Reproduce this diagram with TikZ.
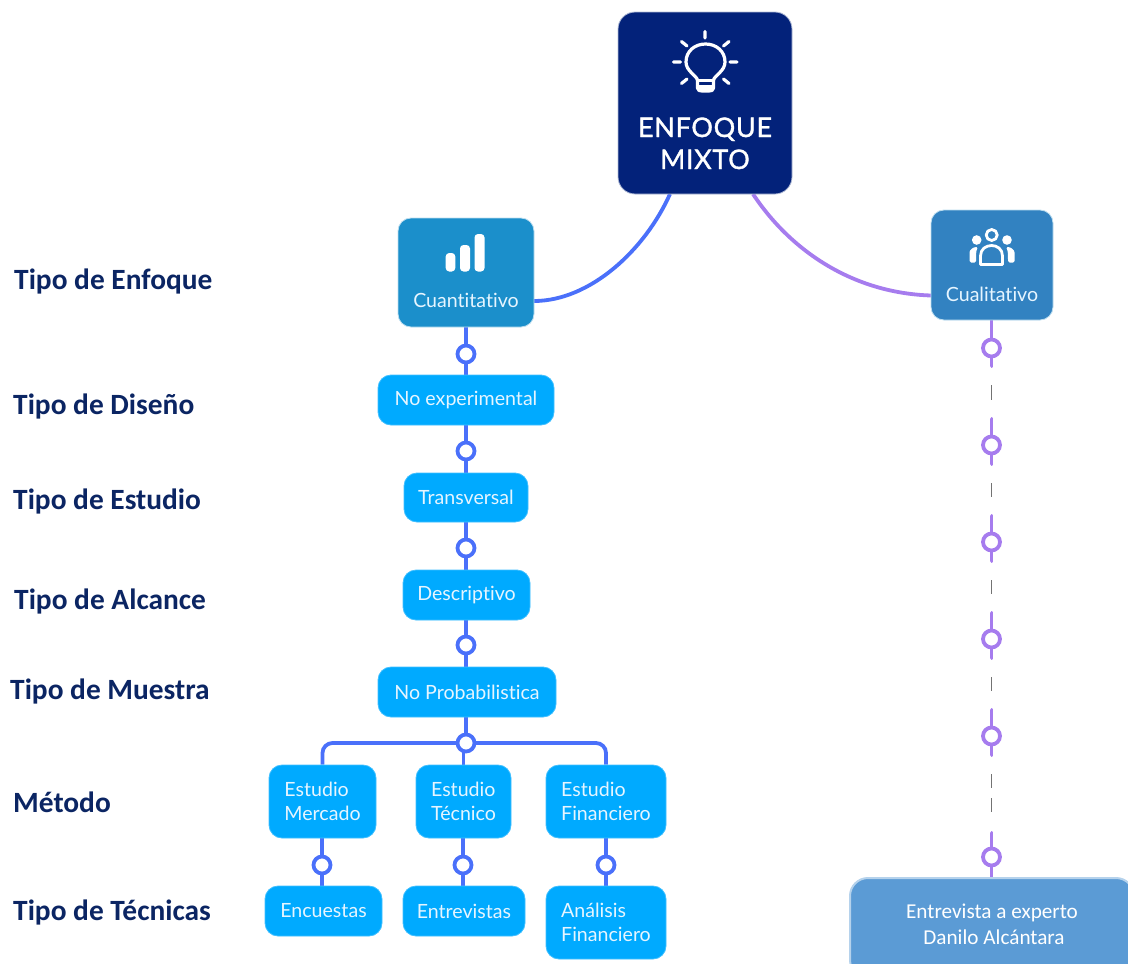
\documentclass[tikz,border=0pt]{standalone}
\usepackage{fontspec}
\setmainfont{Lato}[Ligatures=NoCommon]
\newfontfamily\lab{Carlito}
\newfontfamily\rootf[FakeBold=1.2,LetterSpace=2.5,Ligatures=NoCommon]{Lato}
\usetikzlibrary{backgrounds}
\definecolor{navy}{HTML}{03227A}
\definecolor{cuantc}{HTML}{1B8FCB}
\definecolor{cualc}{HTML}{3282C1}
\definecolor{sky}{HTML}{00AAFF}
\definecolor{exper}{HTML}{5B9BD5}
\definecolor{blu}{HTML}{4A70FA}
\definecolor{pur}{HTML}{A67CEE}
\definecolor{labc}{HTML}{0B2563}
\definecolor{txtc}{HTML}{E6F5FF}
\tikzset{
 box/.style={rectangle,rounded corners=13pt,inner sep=0pt,font=\fontsize{19.6pt}{24pt}\selectfont,text=txtc,align=center},
 sky box/.style={box,fill=sky,draw=sky!75!white,line width=0.8pt},
 left box/.style={sky box,align=left},
 head box/.style={box,draw=white!70!cuantc,line width=0.8pt},
 tipo/.style={anchor=base west,inner sep=0pt,font=\lab\bfseries\fontsize{29.4pt}{30pt}\selectfont,text=labc},
 jb/.style={circle,draw=blu,fill=white,line width=3.8pt,minimum size=17pt,inner sep=0pt},
 jp/.style={circle,draw=pur,fill=white,line width=3.8pt,minimum size=17pt,inner sep=0pt},
 bl/.style={draw=blu,line width=3.8pt},
 pl/.style={draw=pur,line width=3.8pt,line cap=round},
 gap/.style={draw=black!55,line width=1.6pt},
 icon/.style={draw=white,line width=3.2pt,line cap=round,line join=round},
 iconf/.style={fill=white},
}
\begin{document}
\begin{tikzpicture}[x=1pt,y=-1pt]
\useasboundingbox (0,0) rectangle (1128,964);
\begin{scope}
\clip (0,0) rectangle (1128,964);
% labels
\node[tipo] (l1) at (14,289.7) {Tipo de Enfoque};
\node[tipo] (l2) at (13,414.7) {Tipo de Diseño};
\node[tipo] (l3) at (13,509.7) {Tipo de Estudio};
\node[tipo] (l4) at (14,609.7) {Tipo de Alcance};
\node[tipo] (l5) at (10,699.7) {Tipo de Muestra};
\node[tipo] (l6) at (13,812.7) {Método};
\node[tipo] (l7) at (13,920.7) {Tipo de Técnicas};
% main nodes
\node[box,fill=navy,draw=white!70!navy,line width=0.8pt,rounded corners=17pt,minimum width=174pt,minimum height=182pt,
  font=\rootf\fontsize{27pt}{32pt}\selectfont,text=white,text height=157pt,text depth=25pt] (root) at (705,103) {ENFOQUE\\MIXTO};
\node[head box,fill=cuantc,minimum width=136pt,text height=89pt,text depth=20pt] (cuant) at (466,272.5) {Cuantitativo};
\node[head box,fill=cualc,minimum width=122pt,text height=91pt,text depth=19pt] (cual) at (992,265) {Cualitativo};
\node[sky box,minimum width=176pt,minimum height=50pt] (ne) at (466,400) {No experimental};
\node[sky box,minimum width=124pt,minimum height=49pt] (tr) at (466,497.5) {Transversal};
\node[sky box,minimum width=127pt,minimum height=50pt] (de) at (466.5,595) {Descriptivo};
\node[sky box,minimum width=178pt,minimum height=50pt] (np) at (467,692) {No Probabilistica};
\node[left box,minimum width=107pt,minimum height=73pt] (em) at (322.5,801.5) {Estudio\\Mercado};
\node[left box,minimum width=95pt,minimum height=73pt] (et) at (463.5,801.5) {Estudio\\Técnico};
\node[left box,minimum width=120pt,minimum height=73pt] (ef) at (606,801.5) {Estudio\\Financiero};
\node[sky box,minimum width=117pt,minimum height=50pt] (en) at (323.5,911) {Encuestas};
\node[sky box,minimum width=122pt,minimum height=50pt] (ev) at (464,911) {Entrevistas};
\node[left box,minimum width=120pt,minimum height=73pt] (af) at (606,922.5) {Análisis\\Financiero};
\node[box,fill=exper,draw=white!55!exper,line width=2pt,rounded corners=18pt,minimum width=284pt,minimum height=100pt,
  font=\lab\fontsize{21.2pt}{26pt}\selectfont,text=white,text height=66pt,text depth=34pt] (ex) at (992,928) {Entrevista a experto\\\hspace*{4pt}Danilo Alcántara};
% junctions
\node[jb] (j1) at (466,354) {};
\node[jb] (j2) at (466,451) {};
\node[jb] (j3) at (466,548) {};
\node[jb] (j4) at (466,645) {};
\node[jb] (j5) at (466,743) {};
\node[jb] (j6) at (322,865) {};
\node[jb] (j7) at (463,865) {};
\node[jb] (j8) at (606,865) {};
\node[jp] (p1) at (991.5,348) {};
\node[jp] (p2) at (991.5,445) {};
\node[jp] (p3) at (991.5,542) {};
\node[jp] (p4) at (991.5,639) {};
\node[jp] (p5) at (991.5,736) {};
\node[jp] (p6) at (991.5,857) {};
% free ends
\coordinate (ra) at (670,194);
\coordinate (rb) at (753,194);
\coordinate (ca) at (534,301);
\coordinate (cb) at (931,295.5);
\coordinate (s1) at (991.5,366);
\coordinate (s2a) at (991.5,419); \coordinate (s2b) at (991.5,464);
\coordinate (s3a) at (991.5,516); \coordinate (s3b) at (991.5,561);
\coordinate (s4a) at (991.5,613); \coordinate (s4b) at (991.5,658);
\coordinate (s5a) at (991.5,710); \coordinate (s5b) at (991.5,755);
\coordinate (s6a) at (991.5,833);
\begin{scope}[on background layer]
\draw[bl] (ra) .. controls (645,250) and (590,301) .. (ca);
\draw[pl,line cap=butt] (rb) .. controls (790,250) and (852,293) .. (cb);
\draw[bl] (j1|-cuant.south) -- (j1|-ne.north);
\draw[bl] (j2|-ne.south) -- (j2|-tr.north);
\draw[bl] (j3|-tr.south) -- (j3|-de.north);
\draw[bl] (j4|-de.south) -- (j4|-np.north);
\draw[bl] (j5|-np.south) -- (j5);
\draw[bl,rounded corners=10pt] (em.north) |- (j5.center) -| (ef.north);
\draw[bl] (et.north) -- (et.north|-j5);
\draw[bl] (j6|-em.south) -- (j6|-en.north);
\draw[bl] (j7|-et.south) -- (j7|-ev.north);
\draw[bl] (j8|-ef.south) -- (j8|-af.north);
\draw[pl,line cap=butt] (p1|-cual.south) -- (p1);
\draw[pl] (p1) -- (s1);
\draw[pl] (s2a) -- (s2b);
\draw[pl] (s3a) -- (s3b);
\draw[pl] (s4a) -- (s4b);
\draw[pl] (s5a) -- (s5b);
\draw[pl] (s6a) -- (p6);
\draw[pl,line cap=butt] (p6) -- (p6|-ex.north);
\end{scope}
% gaps
\coordinate (g1a) at (991.5,385); \coordinate (g1b) at (991.5,400);
\coordinate (g2a) at (991.5,483); \coordinate (g2b) at (991.5,497);
\coordinate (g3a) at (991.5,580); \coordinate (g3b) at (991.5,594);
\coordinate (g4a) at (991.5,677); \coordinate (g4b) at (991.5,691);
\coordinate (g5a) at (991.5,774); \coordinate (g5b) at (991.5,788);
\coordinate (g6a) at (991.5,798); \coordinate (g6b) at (991.5,812);
\draw[gap] (g1a)--(g1b) (g2a)--(g2b) (g3a)--(g3b) (g4a)--(g4b) (g5a)--(g5b) (g6a)--(g6b);
% bulb icon
\draw[icon] (705,31.5)--(705,38) (673.5,62)--(680.5,62) (730,62)--(737,62)
  (681.5,41.5)--(687,46) (729,41.5)--(723.5,46) (681.5,83.5)--(687,79) (729,83.5)--(723.5,79);
\draw[icon] (697.5,80) .. controls (696,75) and (686,71) .. (686,62)
  .. controls (686,51) and (695,44) .. (705.5,44)
  .. controls (716,44) and (725,51) .. (725,62)
  .. controls (725,71) and (715,75) .. (713.5,80)
  -- (713.5,88) .. controls (713.5,90.5) and (711,91) .. (709,91) -- (702,91) .. controls (700,91) and (697.5,90.5) .. (697.5,88) -- cycle;
\draw[icon] (697.5,80.5)--(713.5,80.5);
\fill[iconf] (698,85) rectangle (713,91);
% bars icon
\fill[iconf,rounded corners=3.5pt] (445.7,253) rectangle (455.3,271.5);
\fill[iconf,rounded corners=3.5pt] (460,245) rectangle (470,271.5);
\fill[iconf,rounded corners=3.5pt] (474.5,234) rectangle (484.5,271.5);
% people icon
\draw[icon,line width=2.8pt] (991.7,235) circle[radius=5.5pt];
\fill[iconf] (976.7,240) circle[radius=4.8pt] (1007,240) circle[radius=4.8pt];
\draw[icon,line width=2.8pt] (980.5,264.5) -- (980.5,256) .. controls (980.5,249) and (986,245.5) .. (991.7,245.5)
 .. controls (997,245.5) and (1002.5,249) .. (1002.5,256) -- (1002.5,264.5) -- cycle;
\fill[iconf,rounded corners=1.5pt] (969.5,262.5) -- (969.5,254) .. controls (969.5,250) and (973,247) .. (978,247) .. controls (976,251) and (976,254) .. (976,262.5) -- cycle;
\fill[iconf,rounded corners=1.5pt] (1014.5,262.5) -- (1014.5,254) .. controls (1014.5,250) and (1011,247) .. (1006,247) .. controls (1008,251) and (1008,254) .. (1008,262.5) -- cycle;
\end{scope}
\end{tikzpicture}
\end{document}
